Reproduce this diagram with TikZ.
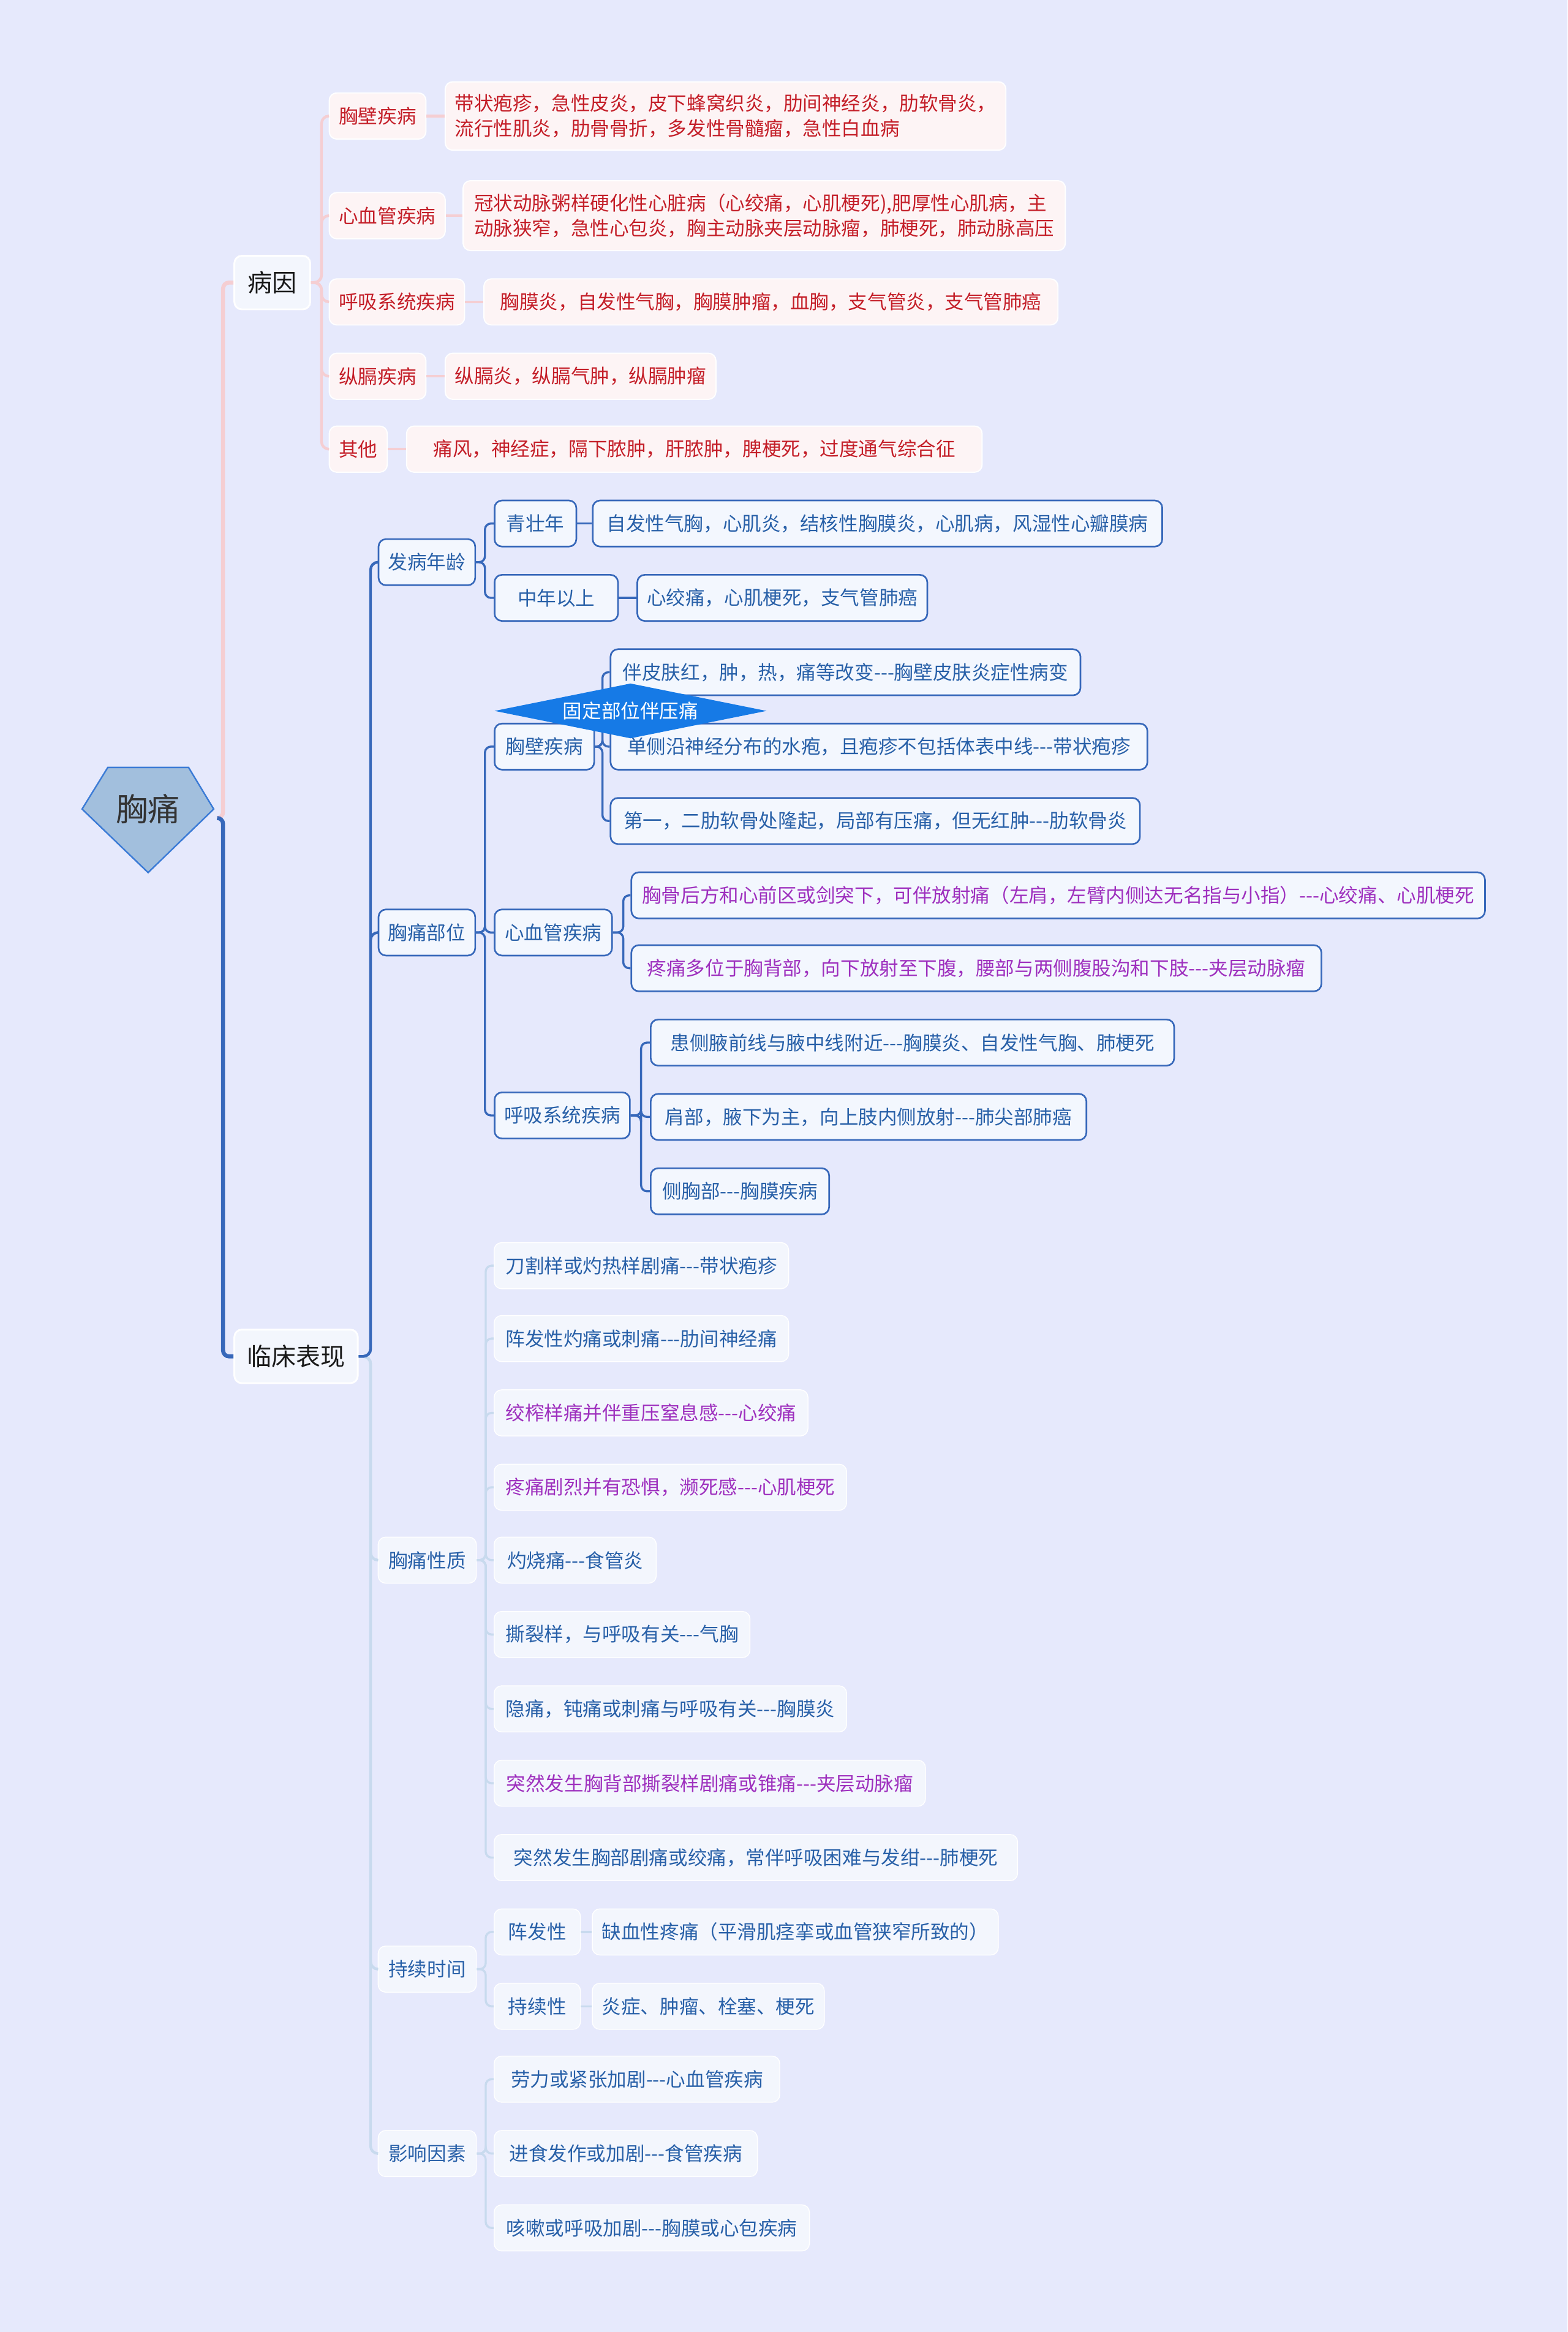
\documentclass[tikz,border=0pt]{standalone}
\usepackage{fontspec}
\setmainfont{Noto Sans CJK SC}[Ligatures=TeXOff]
\usepackage{tikz}
\usetikzlibrary{shapes.geometric}
\definecolor{bgpage}{RGB}{230,233,252}
\definecolor{rootfill}{RGB}{162,191,221}
\definecolor{rootline}{RGB}{59,123,214}
\definecolor{pinklink}{RGB}{245,206,210}
\definecolor{redtext}{RGB}{196,30,40}
\definecolor{redfill}{RGB}{253,244,245}
\definecolor{bluelink}{RGB}{55,104,186}
\definecolor{bluetext}{RGB}{40,96,168}
\definecolor{bluefill}{RGB}{243,247,254}
\definecolor{purpletext}{RGB}{158,48,190}
\definecolor{palelink}{RGB}{200,218,238}
\definecolor{palefill}{RGB}{243,246,253}
\definecolor{tagblue}{RGB}{22,122,230}

\begin{document}
\begin{tikzpicture}[x=1pt, y=-1pt,
    box/.style={rounded corners=5pt, anchor=west, inner xsep=6.5pt, inner ysep=3pt,
                minimum height=31pt, align=left, font=\fontsize{13}{17}\selectfont},
    topic/.style={box, draw=white, line width=1.2pt, fill=palefill, text=black!90,
                  minimum height=36pt, inner xsep=8.5pt, font=\fontsize{16.5}{20}\selectfont},
    redbox/.style={box, draw=white, line width=0.8pt, fill=redfill, text=redtext},
    bluebox/.style={box, draw=bluelink, line width=1.1pt, fill=bluefill, text=bluetext},
    palebox/.style={box, draw=white, line width=0.6pt, fill=palefill, text=bluetext},
    vtext/.style={text=purpletext},
    rootlink/.style={line width=2.7pt, rounded corners=4pt},
    link/.style={line width=1.8pt, rounded corners=5pt},
    sublink/.style={line width=1.4pt, rounded corners=4pt}]
  \fill[bgpage] (0,0) rectangle (1054,1568);
  \useasboundingbox (0,0) rectangle (1054,1568);

  % root
  \draw[rootline, fill=rootfill, line width=1pt]
        (72.5,516) -- (126.8,516) -- (143.7,544) -- (99.6,586.7) -- (55.2,544) -- cycle;
  \node[font=\fontsize{21.5}{26}\selectfont, text=black!80] (root) at (99.5,544) {胸痛};
  \coordinate (rootout) at (146,550);

  \node[topic, minimum width=51pt] (by) at (157,190) {病因};
  \node[topic, minimum width=83pt] (lc) at (157,912) {临床表现};

  % causes
  \node[redbox, minimum width=64pt] (r1) at (221,78) {胸壁疾病};
  \node[redbox, minimum width=78pt] (r2) at (221,145) {心血管疾病};
  \node[redbox, minimum width=91pt] (r3) at (221,203) {呼吸系统疾病};
  \node[redbox, minimum width=64pt] (r4) at (221,253) {纵膈疾病};
  \node[redbox, minimum width=39pt] (r5) at (221,302) {其他};
  \node[redbox, minimum width=377pt, minimum height=46pt] (r1a) at (299,78)
       {带状疱疹，急性皮炎，皮下蜂窝织炎，肋间神经炎，肋软骨炎，\\流行性肌炎，肋骨骨折，多发性骨髓瘤，急性白血病};
  \node[redbox, minimum width=405pt, minimum height=47pt] (r2a) at (311,145)
       {冠状动脉粥样硬化性心脏病（心绞痛，心肌梗死),肥厚性心肌病，主\\动脉狭窄，急性心包炎，胸主动脉夹层动脉瘤，肺梗死，肺动脉高压};
  \node[redbox, minimum width=386pt] (r3a) at (325,203) {胸膜炎，自发性气胸，胸膜肿瘤，血胸，支气管炎，支气管肺癌};
  \node[redbox, minimum width=182pt] (r4a) at (299,253) {纵膈炎，纵膈气肿，纵膈肿瘤};
  \node[redbox, minimum width=387pt] (r5a) at (273,302) {痛风，神经症，隔下脓肿，肝脓肿，脾梗死，过度通气综合征};

  % clinical picture
  \node[bluebox, minimum width=65pt] (age) at (254,378) {发病年龄};
  \node[bluebox, minimum width=65pt] (loc) at (254,627) {胸痛部位};
  \node[palebox, minimum width=66pt] (nat) at (254,1049) {胸痛性质};
  \node[palebox, minimum width=66pt] (dur) at (254,1324) {持续时间};
  \node[palebox, minimum width=66pt] (inf) at (254,1448) {影响因素};

  \node[bluebox, minimum width=55pt] (young) at (332,352) {青壮年};
  \node[bluebox, minimum width=83pt] (mid) at (332,402) {中年以上};
  \node[bluebox, minimum width=383pt] (youngx) at (398,352) {自发性气胸，心肌炎，结核性胸膜炎，心肌病，风湿性心瓣膜病};
  \node[bluebox, minimum width=195pt] (midx) at (428,402) {心绞痛，心肌梗死，支气管肺癌};

  \node[bluebox, minimum width=67pt] (wall) at (332,502) {胸壁疾病};
  \node[bluebox, minimum width=79pt] (cv) at (332,627) {心血管疾病};
  \node[bluebox, minimum width=91pt] (rs) at (332,750) {呼吸系统疾病};
  \node[bluebox, minimum width=316pt] (wa) at (410,452) {伴皮肤红，肿，热，痛等改变---胸壁皮肤炎症性病变};
  \node[bluebox, minimum width=361pt] (wb) at (410,502) {单侧沿神经分布的水疱，且疱疹不包括体表中线---带状疱疹};
  \node[bluebox, minimum width=356pt] (wc) at (410,552) {第一，二肋软骨处隆起，局部有压痛，但无红肿---肋软骨炎};
  \node[bluebox, vtext, minimum width=574pt] (ca) at (424,602)
       {胸骨后方和心前区或剑突下，可伴放射痛（左肩，左臂内侧达无名指与小指）---心绞痛、心肌梗死};
  \node[bluebox, vtext, minimum width=464pt] (cb) at (424,651)
       {疼痛多位于胸背部，向下放射至下腹，腰部与两侧腹股沟和下肢---夹层动脉瘤};
  \node[bluebox, minimum width=352pt] (ra) at (437,701) {患侧腋前线与腋中线附近---胸膜炎、自发性气胸、肺梗死};
  \node[bluebox, minimum width=293pt] (rb) at (437,751) {肩部，腋下为主，向上肢内侧放射---肺尖部肺癌};
  \node[bluebox, minimum width=120pt] (rc) at (437,801) {侧胸部---胸膜疾病};

  \node[palebox, minimum width=198pt] (n1) at (332,851) {刀割样或灼热样剧痛---带状疱疹};
  \node[palebox, minimum width=198pt] (n2) at (332,900) {阵发性灼痛或刺痛---肋间神经痛};
  \node[palebox, vtext, minimum width=211pt] (n3) at (332,950) {绞榨样痛并伴重压窒息感---心绞痛};
  \node[palebox, vtext, minimum width=237pt] (n4) at (332,1000) {疼痛剧烈并有恐惧，濒死感---心肌梗死};
  \node[palebox, minimum width=109pt] (n5) at (332,1049) {灼烧痛---食管炎};
  \node[palebox, minimum width=172pt] (n6) at (332,1099) {撕裂样，与呼吸有关---气胸};
  \node[palebox, minimum width=237pt] (n7) at (332,1149) {隐痛，钝痛或刺痛与呼吸有关---胸膜炎};
  \node[palebox, vtext, minimum width=290pt] (n8) at (332,1199) {突然发生胸背部撕裂样剧痛或锥痛---夹层动脉瘤};
  \node[palebox, minimum width=352pt] (n9) at (332,1249) {突然发生胸部剧痛或绞痛，常伴呼吸困难与发绀---肺梗死};

  \node[palebox, minimum width=58pt] (d1) at (332,1299) {阵发性};
  \node[palebox, minimum width=58pt] (d2) at (332,1349) {持续性};
  \node[palebox, minimum width=271pt] (d1x) at (398,1299) {缺血性疼痛（平滑肌痉挛或血管狭窄所致的）};
  \node[palebox, minimum width=155pt] (d2x) at (398,1349) {炎症、肿瘤、栓塞、梗死};

  \node[palebox, minimum width=192pt] (f1) at (332,1398) {劳力或紧张加剧---心血管疾病};
  \node[palebox, minimum width=177pt] (f2) at (332,1448) {进食发作或加剧---食管疾病};
  \node[palebox, minimum width=212pt] (f3) at (332,1498) {咳嗽或呼吸加剧---胸膜或心包疾病};

  % connectors
  \draw[rootlink, pinklink] (rootout) -- ++(4,0) |- (by.west);
  \draw[rootlink, bluelink] (rootout) -- ++(4,0) |- (lc.west);

  \draw[link, pinklink] (by.east) -- ++(7,0) |- (r1.west);
  \draw[link, pinklink] (by.east) -- ++(7,0) |- (r2.west);
  \draw[link, pinklink] (by.east) -- ++(7,0) |- (r3.west);
  \draw[link, pinklink] (by.east) -- ++(7,0) |- (r4.west);
  \draw[link, pinklink] (by.east) -- ++(7,0) |- (r5.west);
  \draw[link, pinklink] (r1.east) -- (r1a.west);
  \draw[link, pinklink] (r2.east) -- (r2a.west);
  \draw[link, pinklink] (r3.east) -- (r3a.west);
  \draw[link, pinklink] (r4.east) -- (r4a.west);
  \draw[link, pinklink] (r5.east) -- (r5a.west);

  \draw[link, palelink] (lc.east) -- ++(8,0) |- (nat.west);
  \draw[link, palelink] (lc.east) -- ++(8,0) |- (dur.west);
  \draw[link, palelink] (lc.east) -- ++(8,0) |- (inf.west);
  \draw[link, bluelink] (lc.east) -- ++(8,0) |- (age.west);
  \draw[link, bluelink] (lc.east) -- ++(8,0) |- (loc.west);

  \draw[sublink, bluelink] (age.east) -- ++(6,0) |- (young.west);
  \draw[sublink, bluelink] (age.east) -- ++(6,0) |- (mid.west);
  \draw[sublink, bluelink] (young.east) -- (youngx.west);
  \draw[sublink, bluelink] (mid.east) -- (midx.west);

  \draw[sublink, bluelink] (loc.east) -- ++(6,0) |- (wall.west);
  \draw[sublink, bluelink] (loc.east) -- ++(6,0) |- (cv.west);
  \draw[sublink, bluelink] (loc.east) -- ++(6,0) |- (rs.west);
  \draw[sublink, bluelink] (wall.east) -- ++(5,0) |- (wa.west);
  \draw[sublink, bluelink] (wall.east) -- ++(5,0) |- (wb.west);
  \draw[sublink, bluelink] (wall.east) -- ++(5,0) |- (wc.west);
  \draw[sublink, bluelink] (cv.east) -- ++(7,0) |- (ca.west);
  \draw[sublink, bluelink] (cv.east) -- ++(7,0) |- (cb.west);
  \draw[sublink, bluelink] (rs.east) -- ++(7,0) |- (ra.west);
  \draw[sublink, bluelink] (rs.east) -- ++(7,0) |- (rb.west);
  \draw[sublink, bluelink] (rs.east) -- ++(7,0) |- (rc.west);

  \draw[sublink, palelink] (nat.east) -- ++(6,0) |- (n1.west);
  \draw[sublink, palelink] (nat.east) -- ++(6,0) |- (n2.west);
  \draw[sublink, palelink] (nat.east) -- ++(6,0) |- (n3.west);
  \draw[sublink, palelink] (nat.east) -- ++(6,0) |- (n4.west);
  \draw[sublink, palelink] (nat.east) -- ++(6,0) |- (n5.west);
  \draw[sublink, palelink] (nat.east) -- ++(6,0) |- (n6.west);
  \draw[sublink, palelink] (nat.east) -- ++(6,0) |- (n7.west);
  \draw[sublink, palelink] (nat.east) -- ++(6,0) |- (n8.west);
  \draw[sublink, palelink] (nat.east) -- ++(6,0) |- (n9.west);
  \draw[sublink, palelink] (dur.east) -- ++(6,0) |- (d1.west);
  \draw[sublink, palelink] (dur.east) -- ++(6,0) |- (d2.west);
  \draw[sublink, palelink] (d1.east) -- (d1x.west);
  \draw[sublink, palelink] (d2.east) -- (d2x.west);
  \draw[sublink, palelink] (inf.east) -- ++(6,0) |- (f1.west);
  \draw[sublink, palelink] (inf.east) -- ++(6,0) |- (f2.west);
  \draw[sublink, palelink] (inf.east) -- ++(6,0) |- (f3.west);

  % summary tag over the chest wall group
  \node[diamond, aspect=4.95, fill=tagblue, text=white, inner sep=0pt, minimum width=183pt,
        minimum height=37pt, font=\fontsize{13}{15}\selectfont] (tag) at (424,478) {固定部位伴压痛};
\end{tikzpicture}
\end{document}
